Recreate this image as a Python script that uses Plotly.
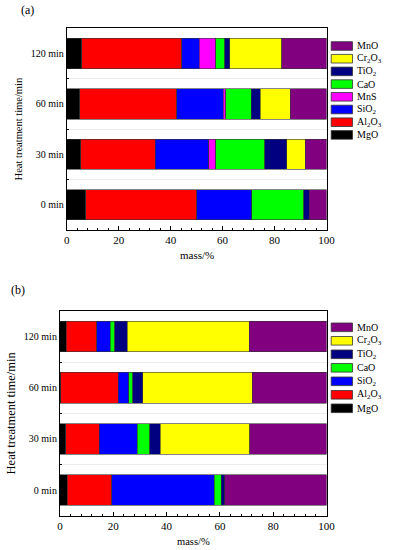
import plotly.graph_objects as go

W, H = 394, 550

categories = ["0 min", "30 min", "60 min", "120 min"]
x_ticks = [0, 20, 40, 60, 80, 100]

# Panel (a) composition, mass %, in category order
a_MgO   = [7.3, 5.5, 5.1, 5.8]
a_Al2O3 = [42.8, 28.5, 37.3, 38.5]
a_SiO2  = [21.2, 20.6, 17.8, 6.7]
a_MnS   = [0.0, 2.7, 1.0, 6.3]
a_CaO   = [19.9, 18.9, 9.8, 3.5]
a_TiO2  = [2.1, 8.5, 3.4, 2.0]
a_Cr2O3 = [0.0, 7.1, 11.7, 20.0]
a_MnO   = [6.7, 8.2, 13.9, 17.2]

# Panel (b) composition, mass %
b_MgO   = [2.8, 2.1, 0.3, 2.4]
b_Al2O3 = [16.7, 12.7, 21.6, 11.4]
b_SiO2  = [38.4, 14.2, 3.9, 5.1]
b_CaO   = [2.7, 4.7, 1.6, 1.6]
b_TiO2  = [1.2, 3.9, 3.6, 4.8]
b_Cr2O3 = [0.0, 33.6, 41.2, 45.7]
b_MnO   = [38.2, 28.8, 27.8, 29.0]

colors = {
    "MgO": "#000000", "Al2O3": "#ff0000", "SiO2": "#0000ff", "MnS": "#ff00ff",
    "CaO": "#00ff00", "TiO2": "#000080", "Cr2O3": "#ffff00", "MnO": "#800080",
}
labels = {
    "MgO": "MgO", "Al2O3": "Al<sub>2</sub>O<sub>3</sub>", "SiO2": "SiO<sub>2</sub>",
    "MnS": "MnS", "CaO": "CaO", "TiO2": "TiO<sub>2</sub>",
    "Cr2O3": "Cr<sub>2</sub>O<sub>3</sub>", "MnO": "MnO",
}

series_a = [("MgO", a_MgO), ("Al2O3", a_Al2O3), ("SiO2", a_SiO2), ("MnS", a_MnS),
            ("CaO", a_CaO), ("TiO2", a_TiO2), ("Cr2O3", a_Cr2O3), ("MnO", a_MnO)]
series_b = [("MgO", b_MgO), ("Al2O3", b_Al2O3), ("SiO2", b_SiO2), ("CaO", b_CaO),
            ("TiO2", b_TiO2), ("Cr2O3", b_Cr2O3), ("MnO", b_MnO)]

FONT = "Liberation Serif"
ypos = list(range(len(categories)))

fig = go.Figure()
for (name, vals) in series_a:
    fig.add_trace(go.Bar(
        x=[v if v else None for v in vals], y=ypos, orientation="h", width=0.6,
        marker=dict(color=colors[name], line=dict(color="#333333", width=0.6)),
        name=name, showlegend=False, xaxis="x", yaxis="y"))
for (name, vals) in series_b:
    fig.add_trace(go.Bar(
        x=[v if v else None for v in vals], y=ypos, orientation="h", width=0.6,
        marker=dict(color=colors[name], line=dict(color="#333333", width=0.6)),
        name=name, showlegend=False, xaxis="x2", yaxis="y2"))


def px(x):
    return x / W


def py(y):
    return 1 - y / H


def xaxis_def(domain, anchor):
    return dict(range=[0, 100], tickvals=x_ticks, ticks="inside", ticklen=4, tickcolor="black",
                showline=True, mirror=True, linecolor="black", linewidth=1, showgrid=False,
                zeroline=False, tickfont=dict(family=FONT, size=11, color="black"),
                minor=dict(dtick=4, tick0=0, ticks="inside", ticklen=2, tickcolor="black"),
                domain=domain, anchor=anchor)


def yaxis_def(domain, anchor, tick_size, title_size, standoff):
    return dict(range=[-0.5, 3.5], tickvals=ypos, ticktext=categories, ticks="",
                showline=True, mirror=True, linecolor="black", linewidth=1, showgrid=False,
                zeroline=False, tickfont=dict(family=FONT, size=tick_size, color="black"),
                minor=dict(tickvals=[0.5, 1.5, 2.5], ticks="inside", ticklen=2, tickcolor="black",
                           showgrid=True, gridcolor="#ececec", gridwidth=1),
                title=dict(text="Heat treatment time/min",
                           font=dict(family=FONT, size=title_size, color="black"),
                           standoff=standoff),
                domain=domain, anchor=anchor)


fig.update_layout(
    width=W, height=H, margin=dict(l=0, r=0, t=0, b=0),
    paper_bgcolor="white", plot_bgcolor="white", barmode="stack", bargap=0.4,
    xaxis=xaxis_def([px(65.7), px(333.7)], "y"),
    yaxis=yaxis_def([py(230), py(28.3)], "x", 10, 10.5, 5),
    xaxis2=xaxis_def([px(58.7), px(333.7)], "y2"),
    yaxis2=yaxis_def([py(515.7), py(311)], "x2", 10, 12.5, 5),
    font=dict(family=FONT, color="black"),
)

shapes = []
annotations = []

# Panel labels and x titles
for txt, x, y, size in [("(a)", 16, 10, 12), ("(b)", 6, 290, 12)]:
    annotations.append(dict(text=txt, x=px(x), y=py(y), xref="paper", yref="paper",
                            xanchor="left", yanchor="middle", showarrow=False,
                            font=dict(family=FONT, size=size, color="black")))
for x, y, s in [(199.7, 255, 11), (196.2, 541, 10.5)]:
    annotations.append(dict(text="mass/%", x=px(x), y=py(y), xref="paper", yref="paper",
                            xanchor="center", yanchor="middle", showarrow=False,
                            font=dict(family=FONT, size=s, color="black")))


def add_legend(series, y0, step):
    for i, (name, _) in enumerate(reversed(series)):
        cy = y0 + step * i
        shapes.append(dict(type="rect", xref="paper", yref="paper",
                           x0=px(338.5), x1=px(360.5), y0=py(cy + 4.3), y1=py(cy - 4.3),
                           fillcolor=colors[name], line=dict(color="#333333", width=0.8)))
        annotations.append(dict(text=labels[name], x=px(363), y=py(cy), xref="paper", yref="paper",
                                xanchor="left", yanchor="middle", showarrow=False,
                                font=dict(family=FONT, size=10, color="black")))


add_legend(series_a, 46, 12.7)
add_legend(series_b, 327.3, 13.5)

fig.update_layout(shapes=shapes, annotations=annotations)
fig.write_html("out.html", config={"displayModeBar": False},
               post_script="document.body.style.margin='0px';document.body.style.overflow='hidden';")
